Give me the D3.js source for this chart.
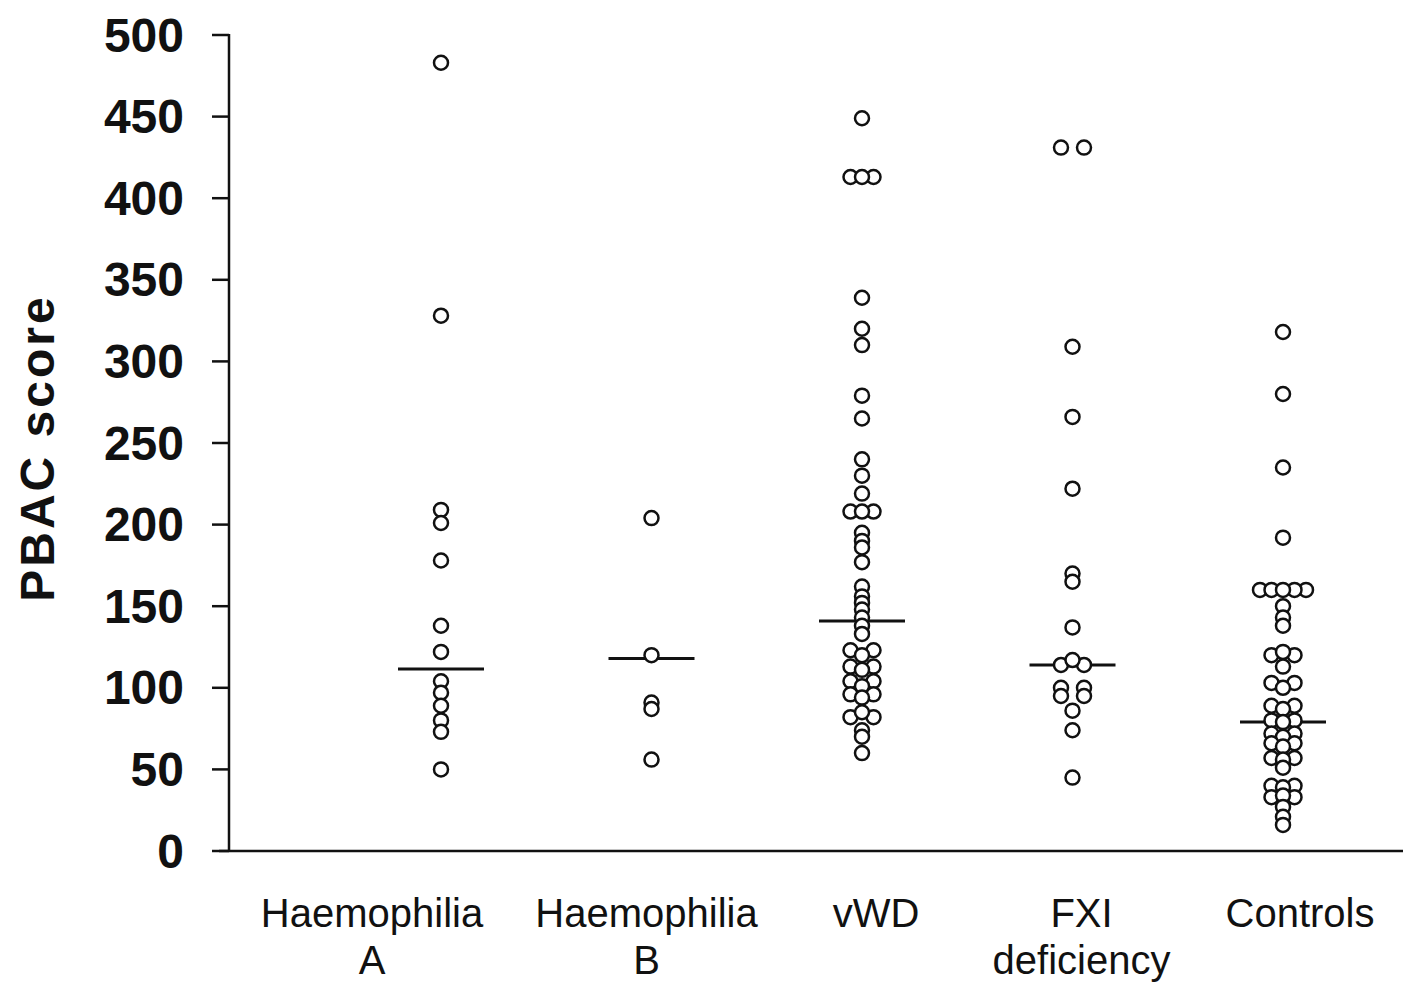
<!DOCTYPE html>
<html lang="en">
<head>
  <meta charset="UTF-8">
  <title>PBAC score by group</title>
  <script src="https://d3js.org/d3.v7.min.js"></script>
  <style>
    body { margin: 0; background: #fff; }
    svg { display: block; }
    .tick-label { font-family: "Liberation Sans", Arial, sans-serif; font-weight: bold; font-size: 48px; }
    .y-title { font-family: "Liberation Sans", Arial, sans-serif; font-weight: bold; font-size: 48px; letter-spacing: 3px; }
    .cat-label { font-family: "Liberation Sans", Arial, sans-serif; font-size: 40px; }
  </style>
</head>
<body>
  <svg id="chart" width="1403" height="985"></svg>
  <script>
    // groups and their label lines
    const groups = ['Haemophilia A', 'Haemophilia B', 'vWD', 'FXI deficiency', 'Controls'];
    const groupLabels = [['Haemophilia', 'A'], ['Haemophilia', 'B'], ['vWD'], ['FXI', 'deficiency'], ['Controls']];

    // PBAC scores
    const haemA = [483, 328, 209, 201, 178, 138, 122, 104, 97, 89, 80, 73, 50];
    const haemB = [204, 120, 91, 87, 56];
    const vwd = [449, 413, 413, 413, 339, 320, 310, 279, 265, 240, 230, 219, 208, 208, 208,
      195, 190, 186, 177, 162, 156, 152, 148, 143, 138, 133, 123, 123, 120, 113, 113, 111,
      104, 104, 101, 96, 96, 94, 85, 82, 82, 74, 70, 60];
    const fxi = [431, 431, 309, 266, 222, 170, 165, 137, 117, 114, 114, 100, 100, 95, 95, 86, 74, 45];
    const controls = [318, 280, 235, 192, 160, 160, 160, 160, 160, 150, 143, 138, 122, 120, 120, 113,
      103, 103, 100, 89, 89, 87, 80, 80, 79, 72, 72, 70, 66, 66, 64, 57, 57, 56, 51,
      40, 40, 39, 34, 33, 33, 27, 21, 16];
    const medians = [111.5, 118, 141, 114, 79];

    const yTicks = d3.range(0, 501, 50);

    const series = [haemA, haemB, vwd, fxi, controls];

    const svg = d3.select('#chart');
    const axisX = 229;
    const y = d3.scaleLinear().domain([0, 500]).range([851, 35]);
    const x = d3.scalePoint().domain(groups).range([441, 1283]);

    const r = 7;
    const spread = 11.5;   // horizontal step between points of one row
    const rowTol = 5.5;    // px: values closer than this share a row
    const labelShift = [-69, -5, 14, 9, 17];

    // column scatter: near-equal values spread sideways, others stack in the middle
    function layout(values) {
      const sorted = values.slice().sort((a, b) => b - a);
      const rows = [];
      sorted.forEach(v => {
        const last = rows[rows.length - 1];
        if (last && Math.abs(y(v) - y(last[0])) < rowTol) last.push(v);
        else rows.push([v]);
      });
      const out = [];
      rows.forEach(row => {
        const count = v => row.filter(w => w === v).length;
        const ordered = row.slice().sort((a, b) => count(b) - count(a) || b - a);
        const n = ordered.length;
        const slots = [];
        const half = Math.floor(n / 2);
        for (let k = half; k >= 1; k--) slots.push(-k * spread, k * spread);
        if (n % 2) slots.push(0);
        ordered.forEach((v, i) => out.push({ v, dx: slots[i] }));
      });
      return out;
    }

    // axes
    const ax = svg.append('g').attr('stroke', '#111').attr('stroke-width', 2.5);
    ax.append('line').attr('x1', axisX).attr('x2', axisX).attr('y1', y(500) - 1).attr('y2', y(0));
    ax.append('line').attr('x1', axisX - 10).attr('x2', 1403).attr('y1', y(0)).attr('y2', y(0));
    ax.selectAll('.tk').data(yTicks).join('line')
      .attr('x1', axisX - 17).attr('x2', axisX)
      .attr('y1', d => y(d)).attr('y2', d => y(d));

    svg.selectAll('.tick-label').data(yTicks).join('text')
      .attr('class', 'tick-label')
      .attr('x', axisX - 45).attr('y', d => y(d))
      .attr('text-anchor', 'end').attr('dominant-baseline', 'central')
      .attr('fill', '#111')
      .text(d => d);

    svg.append('text').attr('class', 'y-title')
      .attr('transform', `translate(37,${(y(0) + y(500)) / 2 + 5}) rotate(-90)`)
      .attr('text-anchor', 'middle').attr('dominant-baseline', 'central')
      .attr('fill', '#111')
      .text('PBAC score');

    // category labels
    groups.forEach((g, i) => {
      const t = svg.append('text').attr('class', 'cat-label')
        .attr('text-anchor', 'middle').attr('fill', '#111');
      groupLabels[i].forEach((line, j) => {
        t.append('tspan').attr('x', x(g) + labelShift[i]).attr('y', 927 + j * 47).text(line);
      });
    });

    // median lines
    svg.selectAll('.median').data(groups).join('line')
      .attr('x1', g => x(g) - 43).attr('x2', g => x(g) + 43)
      .attr('y1', (g, i) => y(medians[i])).attr('y2', (g, i) => y(medians[i]))
      .attr('stroke', '#111').attr('stroke-width', 3);

    // points
    groups.forEach((g, i) => {
      svg.append('g').selectAll('circle').data(layout(series[i])).join('circle')
        .attr('cx', d => x(g) + d.dx)
        .attr('cy', d => y(d.v))
        .attr('r', r)
        .attr('fill', '#fff')
        .attr('stroke', '#111')
        .attr('stroke-width', 2.5);
    });
  </script>
</body>
</html>
